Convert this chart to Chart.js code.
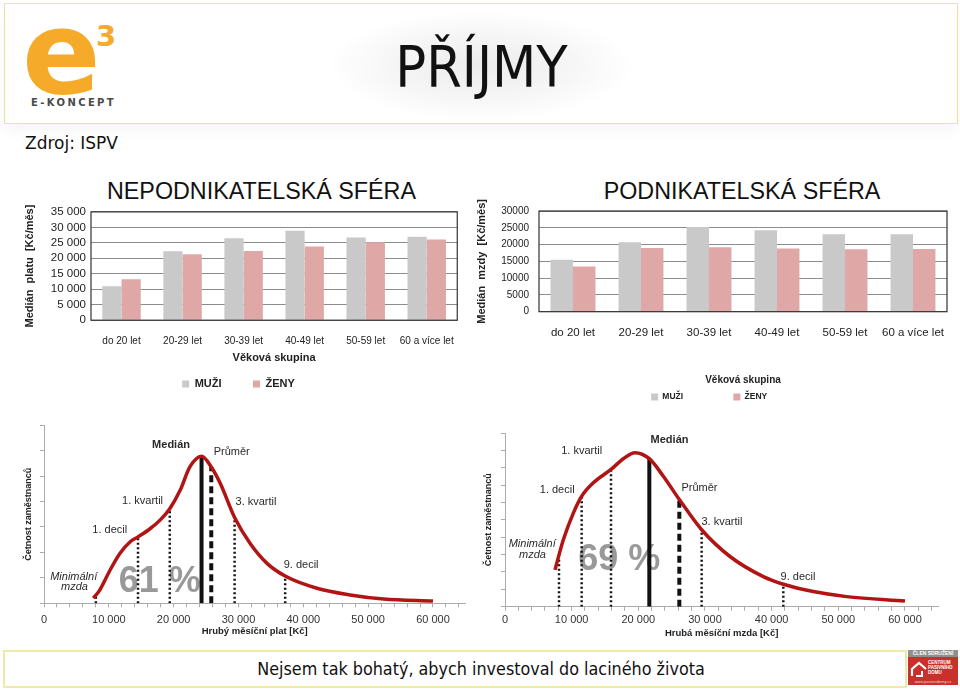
<!DOCTYPE html>
<html lang="cs">
<head>
<meta charset="utf-8">
<title>Příjmy</title>
<script src="https://cdn.jsdelivr.net/npm/chart.js@4.4.1/dist/chart.umd.min.js"></script>
<style>
    html, body { margin: 0; padding: 0; background: #fff; }
    body { width: 960px; height: 690px; position: relative; overflow: hidden; font-family: "Liberation Sans", Arial, sans-serif; color: #111; }
    .abs { position: absolute; }
    canvas { position: absolute; }
    #header { left: 4px; top: 3px; width: 952px; height: 119px; border: 1px solid #ebe49b; box-shadow: 0 8px 12px rgba(0,0,0,0.035); }
    #glow { left: 326px; top: 10px; width: 310px; height: 112px; background: radial-gradient(ellipse at center, rgba(0,0,0,0.08) 0%, rgba(0,0,0,0.035) 42%, rgba(0,0,0,0) 70%); }
    #pageTitle { left: 0; top: 39px; width: 963px; text-align: center; font-family: "DejaVu Sans Condensed", "DejaVu Sans", sans-serif; font-stretch: condensed; font-size: 57px; line-height: 57px; color: #111; }
    #logoE { left: 22px; top: -5px; font-family: "DejaVu Sans", sans-serif; font-weight: bold; font-size: 116px; line-height: 116px; color: #f6aa2a; }
    #logo3 { left: 96px; top: 22px; font-family: "DejaVu Sans", sans-serif; font-weight: bold; font-size: 29px; line-height: 29px; color: #f6aa2a; }
    #logoText { left: 31px; top: 98px; font-family: "DejaVu Sans", sans-serif; font-weight: bold; font-size: 10px; line-height: 10px; letter-spacing: 2.4px; color: #4a4a4a; }
    #source { left: 25px; top: 135px; font-family: "DejaVu Sans", sans-serif; font-size: 17px; line-height: 17px; color: #111; }
    .section { font-size: 23.3px; line-height: 23.3px; text-align: center; color: #111; }
    #footer { left: 3px; top: 650px; width: 900px; height: 34px; border: 2px solid #efe9aa; }
    #motto { left: 0; top: 660px; width: 962px; text-align: center; font-family: "DejaVu Sans Condensed", "DejaVu Sans", sans-serif; font-stretch: condensed; font-size: 17.8px; line-height: 17.8px; color: #111; }
    #cpd { left: 908px; top: 650px; width: 50px; height: 35px; }
    #cpd .top { height: 7px; background: #8f8f8f; color: #fff; font: bold 5px/7px "Liberation Sans", Arial, sans-serif; text-align: center; }
    #cpd .box { position: relative; height: 28px; background: #c8312b; }
    #cpd .name { position: absolute; left: 20px; top: 3px; color: #fff; font: bold 4.5px/5px "Liberation Sans", Arial, sans-serif; }
    #cpd .web { position: absolute; left: 0; bottom: 1px; width: 50px; text-align: center; color: #f3d0cc; font: 4px/5px "Liberation Sans", Arial, sans-serif; }
</style>
</head>
<body>

<div id="header" class="abs"></div>
<div id="glow" class="abs"></div>
<div id="logoE" class="abs">e</div>
<div id="logo3" class="abs">3</div>
<div id="logoText" class="abs">E-KONCEPT</div>
<div id="pageTitle" class="abs">PŘÍJMY</div>
<div id="source" class="abs">Zdroj: ISPV</div>

<div class="abs section" style="left:0px;top:179.5px;width:523px;">NEPODNIKATELSKÁ SFÉRA</div>
<div class="abs section" style="left:482px;top:179.5px;width:520px;">PODNIKATELSKÁ SFÉRA</div>

<canvas id="nepodBars" width="470" height="200" style="left:0px;top:200px;"></canvas>
<canvas id="podBars" width="490" height="217" style="left:470px;top:195px;"></canvas>
<canvas id="nepodCurve" width="475" height="230" style="left:0px;top:415px;"></canvas>
<canvas id="podCurve" width="485" height="230" style="left:475px;top:415px;"></canvas>

<div id="footer" class="abs"></div>
<div id="motto" class="abs">Nejsem tak bohatý, abych investoval do laciného života</div>
<div id="cpd" class="abs">
    <div class="top">ČLEN SDRUŽENÍ</div>
    <div class="box">
        <svg width="18" height="16" style="position:absolute;left:2px;top:4px;" viewBox="0 0 18 16">
            <path d="M2 15 V8 L9 2 L16 8" fill="none" stroke="#fff" stroke-width="2.2"/>
            <path d="M6 15 H12 V10" fill="none" stroke="#fff" stroke-width="2"/>
        </svg>
        <div class="name">CENTRUM<br>PASIVNÍHO<br>DOMU</div>
        <div class="web">www.pasivnidomy.cz</div>
    </div>
</div>

<script>
// ---- data ----
const ageGroups = ['do 20 let', '20-29 let', '30-39 let', '40-49 let', '50-59 let', '60 a více let'];

// median salary by age, non-business sphere [Kč/měs]
const nepodMuzi = [11000, 22300, 26500, 28900, 26700, 27000];
const nepodZeny = [13200, 21300, 22400, 23800, 25200, 26100];

// median wage by age, business sphere [Kč/měs]
const podMuzi = [15500, 20700, 25200, 24300, 23100, 23100];
const podZeny = [13500, 19000, 19200, 18800, 18600, 18700];

// distribution curves (x = Kč, y = relative frequency)
const nepodCurveX = [7600, 8600, 10200, 11700, 13300, 14500, 16400, 17900, 19400, 21000, 22500, 24300, 25800, 27200, 29400, 31800, 34400, 37200, 42100, 47200, 52400, 60000];
const nepodCurveY = [0.2, 0.52, 1.31, 1.96, 2.42, 2.61, 2.94, 3.27, 3.72, 4.44, 5.36, 5.78, 5.36, 4.71, 3.37, 2.35, 1.57, 1.07, 0.59, 0.33, 0.17, 0.09];
const podCurveX = [7500, 8750, 10250, 11500, 13250, 15900, 17750, 19500, 21650, 23750, 26150, 29500, 33750, 38750, 41750, 46250, 51250, 60000];
const podCurveY = [2.12, 3.85, 5.39, 6.36, 7.13, 7.9, 8.52, 8.87, 8.52, 7.51, 6.17, 4.43, 2.89, 1.73, 1.29, 0.87, 0.58, 0.33];

// marker lines: minimum wage, deciles, quartiles, median, mean
const markerNames = ['Minimální mzda', '1. decil', '1. kvartil', 'Medián', 'Průměr', '3. kvartil', '9. decil'];
const nepodMarkerX = [8000, 14500, 19400, 24300, 25800, 29400, 37200];
const nepodMarkerTop = [0.35, 2.61, 3.72, 5.78, 5.36, 3.37, 1.07];
const podMarkerX = [8100, 11500, 15900, 21650, 26150, 29500, 41750];
const podMarkerTop = [2.7, 6.36, 7.9, 8.52, 6.17, 4.43, 1.29];

// share of employees under the mean [%]
const nepodShare = 61;
const podShare = 69;

// ---- helpers ----
const FONT = '"Liberation Sans", Arial, Helvetica, sans-serif';
Chart.defaults.font.family = FONT;
Chart.defaults.color = '#222';

const MUZI_COLOR = '#c9c9c9';
const ZENY_COLOR = '#e0a7a7';

function spaced(n) {
    return String(n).replace(/\B(?=(\d{3})+(?!\d))/g, ' ');
}

function markerStyle(name) {
    if (name === 'Medián') return { borderWidth: 4, borderDash: [] };
    if (name === 'Průměr') return { borderWidth: 4, borderDash: [7, 4] };
    return { borderWidth: 2.5, borderDash: [2, 2.5] };
}

// minor ticks every 2 000 Kč, labels every 10 000 Kč
function salaryTicks(scale) {
    const ticks = [];
    for (let v = 0; v <= 64000; v += 2000) ticks.push({ value: v });
    scale.ticks = ticks;
}

// frame around the plot area of the bar charts
const plotFrame = {
    id: 'plotFrame',
    afterDatasetsDraw(chart) {
        const { ctx, chartArea: a } = chart;
        ctx.save();
        ctx.strokeStyle = '#333';
        ctx.lineWidth = 1.2;
        ctx.strokeRect(a.left, a.top, a.right - a.left, a.bottom - a.top);
        ctx.restore();
    }
};

// texts placed on the distribution charts, in data units
const curveText = {
    id: 'curveText',
    beforeDatasetsDraw(chart, args, opts) {
        if (!opts.share) return;
        const { ctx, scales: { x, y } } = chart;
        ctx.save();
        ctx.font = 'bold 36px ' + FONT;
        ctx.fillStyle = '#999';
        ctx.textAlign = 'center';
        ctx.textBaseline = 'middle';
        ctx.fillText(opts.share.text, x.getPixelForValue(opts.share.x), y.getPixelForValue(opts.share.y));
        ctx.restore();
    },
    afterDatasetsDraw(chart, args, opts) {
        const { ctx, scales: { x, y } } = chart;
        ctx.save();
        ctx.fillStyle = '#2a2a2a';
        ctx.textAlign = 'center';
        ctx.textBaseline = 'middle';
        (opts.labels || []).forEach(l => {
            ctx.font = (l.italic ? 'italic ' : '') + (l.bold ? 'bold ' : '') + '11px ' + FONT;
            ctx.fillText(l.text, x.getPixelForValue(l.x), y.getPixelForValue(l.y));
        });
        ctx.restore();
    }
};

function legendWithGap(gap) {
    return function (chart) {
        const items = Chart.defaults.plugins.legend.labels.generateLabels(chart);
        items[0].text += '\u00a0'.repeat(gap);
        return items;
    };
}

function barConfig(o) {
    return {
        type: 'bar',
        data: {
            labels: ageGroups,
            datasets: [
                { label: 'MUŽI', data: o.muzi, backgroundColor: MUZI_COLOR, borderWidth: 0, barPercentage: 1, categoryPercentage: o.catPct },
                { label: 'ŽENY', data: o.zeny, backgroundColor: ZENY_COLOR, borderWidth: 0, barPercentage: 1, categoryPercentage: o.catPct }
            ]
        },
        options: {
            responsive: false,
            animation: false,
            events: [],
            layout: { padding: o.padding },
            plugins: {
                tooltip: { enabled: false },
                legend: {
                    position: 'bottom',
                    labels: {
                        boxWidth: 7, boxHeight: 7, padding: o.legendPad, color: '#222',
                        font: { size: o.legendSize, weight: 'bold' },
                        generateLabels: legendWithGap(o.legendGap)
                    }
                }
            },
            scales: {
                x: {
                    afterFit(s) { s.height = o.xHeight; },
                    grid: { display: false, drawTicks: false },
                    border: { display: false },
                    ticks: { padding: o.xTickPad, maxRotation: 0, autoSkip: false, color: '#222', font: { size: o.xTickSize } },
                    title: { display: true, text: 'Věková skupina', color: '#222', font: { size: o.xTitleSize, weight: 'bold' }, padding: { top: 0, bottom: 4 } }
                },
                y: {
                    min: 0, max: o.max,
                    afterFit(s) { s.width = o.yWidth; },
                    grid: { color: '#8c8c8c', drawTicks: false },
                    border: { display: false },
                    ticks: { stepSize: 5000, autoSkip: false, padding: o.yTickPad, color: '#222', font: { size: o.yTickSize }, callback: o.tickFormat },
                    title: { display: true, text: o.yTitle, color: '#222', font: { size: 11, weight: 'bold' }, padding: { top: 4, bottom: 0 } }
                }
            }
        },
        plugins: [plotFrame]
    };
}

function curveConfig(o) {
    const datasets = [{
        data: o.curveX.map((x, i) => ({ x: x, y: o.curveY[i] })),
        showLine: true,
        borderColor: '#b21414',
        borderWidth: 3.5,
        pointRadius: 0,
        cubicInterpolationMode: 'monotone'
    }];
    markerNames.forEach((name, i) => {
        const st = markerStyle(name);
        datasets.push({
            label: name,
            data: [{ x: o.markerX[i], y: 0 }, { x: o.markerX[i], y: o.markerTop[i] }],
            showLine: true,
            borderColor: '#111',
            borderWidth: st.borderWidth,
            borderDash: st.borderDash,
            pointRadius: 0
        });
    });
    return {
        type: 'scatter',
        data: { datasets: datasets },
        options: {
            responsive: false,
            animation: false,
            events: [],
            layout: { padding: o.padding },
            plugins: {
                legend: { display: false },
                tooltip: { enabled: false },
                curveText: { share: o.share, labels: o.labels }
            },
            scales: {
                x: {
                    type: 'linear', min: 0, max: 65000,
                    afterBuildTicks: salaryTicks,
                    afterFit(s) { s.height = o.xHeight; },
                    grid: { drawOnChartArea: false, tickLength: 4, color: '#ababab' },
                    border: { color: '#ababab' },
                    ticks: {
                        autoSkip: false, maxRotation: 0, padding: o.xTickPad, color: '#333', font: { size: 11 },
                        callback: v => (v % 10000 === 0 ? spaced(v) : '')
                    },
                    title: { display: true, text: o.xTitle, color: '#222', font: { size: 9.5, weight: 'bold' } }
                },
                y: {
                    min: 0, max: o.yMax,
                    afterFit(s) { s.width = o.yWidth; },
                    grid: { drawOnChartArea: false, tickLength: 4, color: '#ababab' },
                    border: { color: '#ababab' },
                    ticks: { stepSize: 1, autoSkip: false, callback: () => '' },
                    title: { display: true, text: 'Četnost zaměstnanců', color: '#222', font: { size: 9, weight: 'bold' } }
                }
            }
        },
        plugins: [curveText]
    };
}

// ---- charts ----
new Chart(document.getElementById('nepodBars'), barConfig({
    muzi: nepodMuzi, zeny: nepodZeny, max: 35000, catPct: 0.63,
    padding: { left: 19, right: 12, top: 10, bottom: 0.5 },
    yWidth: 72, xHeight: 48.3, xTickPad: 15.3, yTickPad: 5,
    xTickSize: 10, yTickSize: 11.5, xTitleSize: 11,
    legendSize: 11, legendPad: 10, legendGap: 7,
    yTitle: 'Medián  platu  [Kč/měs]',
    tickFormat: v => spaced(v)
}));

new Chart(document.getElementById('podBars'), barConfig({
    muzi: podMuzi, zeny: podZeny, max: 30000, catPct: 0.66,
    padding: { left: 1.4, right: 13, top: 11.7, bottom: 0.75 },
    yWidth: 67.6, xHeight: 78.05, xTickPad: 14.4, yTickPad: 10,
    xTickSize: 11.5, yTickSize: 10, xTitleSize: 10,
    legendSize: 8.5, legendPad: 3, legendGap: 20,
    yTitle: 'Medián  mzdy  [Kč/měs]',
    tickFormat: v => String(v)
}));

new Chart(document.getElementById('nepodCurve'), curveConfig({
    curveX: nepodCurveX, curveY: nepodCurveY, markerX: nepodMarkerX, markerTop: nepodMarkerTop,
    yMax: 7,
    padding: { left: 19, right: 9.6, top: 10, bottom: 3.6 },
    yWidth: 25, xHeight: 38.1, xTickPad: 6,
    xTitle: 'Hrubý měsíční plat [Kč]',
    share: { text: nepodShare + ' %', x: 17850, y: 0.85 },
    labels: [
        { text: 'Medián', x: 19600, y: 6.21, bold: true },
        { text: 'Průměr', x: 28960, y: 5.95 },
        { text: '1. kvartil', x: 15200, y: 4.03 },
        { text: '3. kvartil', x: 32700, y: 3.99 },
        { text: '1. decil', x: 10140, y: 2.9 },
        { text: '9. decil', x: 39660, y: 1.5 },
        { text: 'Minimální', x: 4580, y: 1.04, italic: true },
        { text: 'mzda', x: 4700, y: 0.65, italic: true }
    ]
}));

new Chart(document.getElementById('podCurve'), curveConfig({
    curveX: podCurveX, curveY: podCurveY, markerX: podMarkerX, markerTop: podMarkerTop,
    yMax: 10,
    padding: { left: 4.6, right: 21.7, top: 18, bottom: 2.3 },
    yWidth: 25.4, xHeight: 36, xTickPad: 2.7,
    xTitle: 'Hrubá měsíční mzda [Kč]',
    share: { text: podShare + ' %', x: 17150, y: 2.69 },
    labels: [
        { text: 'Medián', x: 24680, y: 9.58, bold: true },
        { text: '1. kvartil', x: 11500, y: 8.94 },
        { text: '1. decil', x: 7830, y: 6.73 },
        { text: 'Průměr', x: 29170, y: 6.83 },
        { text: '3. kvartil', x: 32550, y: 4.9 },
        { text: '9. decil', x: 43950, y: 1.73 },
        { text: 'Minimální', x: 4080, y: 3.62, italic: true },
        { text: 'mzda', x: 4120, y: 2.98, italic: true }
    ]
}));
</script>
</body>
</html>
